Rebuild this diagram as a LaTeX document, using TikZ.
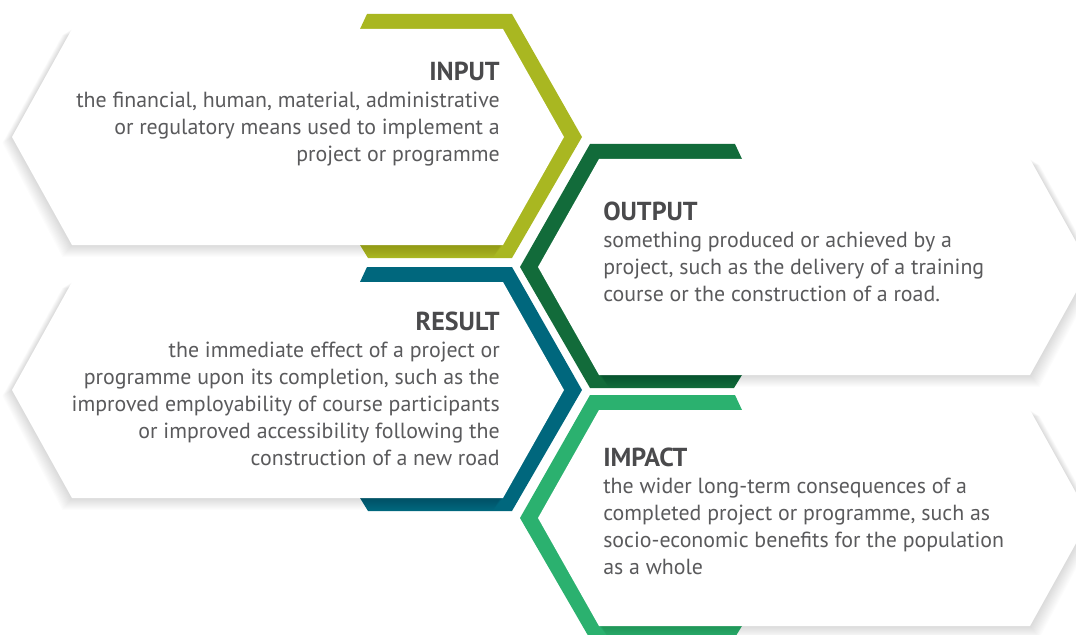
\documentclass[tikz,border=0pt]{standalone}
\usepackage{fontspec}
\setmainfont{PT Sans}
\definecolor{inputgreen}{HTML}{A9B721}
\definecolor{outputgreen}{HTML}{126B3A}
\definecolor{resultblue}{HTML}{00677D}
\definecolor{impactgreen}{HTML}{2BB16F}
\definecolor{textgray}{HTML}{5A5A5C}
\definecolor{titlegray}{HTML}{4A4A4C}
\tikzset{
	boxtext/.style={text=textgray, inner sep=0pt, font=\fontsize{16.4}{20.25}\selectfont}
}
\newcommand{\boxtitle}[1]{{\fontsize{19.5}{20.25}\selectfont\bfseries\color{titlegray}#1}}
\begin{document}
\begin{tikzpicture}[x=0.75pt, y=-0.75pt]
				\useasboundingbox (0,0) rectangle (1076,635);
				\clip (0,0) rectangle (1076,635);
				
				%left boxes
				\foreach \c/\col in {137/inputgreen, 390/resultblue}{
					\fill[\col] (360,\c-108)--(367,\c-123)--(512,\c-123)--(582,\c)--(512,\c+121)--(368,\c+121)--(360,\c+108)--cycle;
					\foreach \s in {1,...,12}{
						\fill[black, opacity=0.012] (12-0.8*\s,\c+0.5*\s)--(72-0.8*\s,\c-108+0.5*\s)--(503-0.8*\s,\c-108+0.5*\s)--(564-0.8*\s,\c+0.5*\s)--(503-0.8*\s,\c+108+\s)--(72-0.8*\s,\c+108+\s)--cycle;
					}
					\fill[white] (12,\c)--(72,\c-108)--(503,\c-108)--(564,\c)--(503,\c+108)--(72,\c+108)--cycle;
				}
				
				%right boxes, mirrored
				\begin{scope}[shift={(1102,0)}, xscale=-1]
				\foreach \c/\col in {267/outputgreen, 518/impactgreen}{
					\fill[\col] (360,\c-108)--(367,\c-123)--(512,\c-123)--(582,\c)--(512,\c+121)--(368,\c+121)--(360,\c+108)--cycle;
					\foreach \s in {1,...,12}{
						\fill[black, opacity=0.012] (12-0.8*\s,\c+0.5*\s)--(72-0.8*\s,\c-108+0.5*\s)--(503-0.8*\s,\c-108+0.5*\s)--(564-0.8*\s,\c+0.5*\s)--(503-0.8*\s,\c+108+\s)--(72-0.8*\s,\c+108+\s)--cycle;
					}
					\fill[white] (12,\c)--(72,\c-108)--(503,\c-108)--(564,\c)--(503,\c+108)--(72,\c+108)--cycle;
				}
				\end{scope}
				
				%texts
				\node[boxtext, align=right, anchor=north east] (input) at (500,62)
					{\boxtitle{INPUT}\\
					the financial, human, material, administrative\\
					or regulatory means used to implement a\\
					project or programme};
				\node[boxtext, align=left, anchor=north west] (output) at (603,202)
					{\boxtitle{OUTPUT}\\
					something produced or achieved by a\\
					project, such as the delivery of a training\\
					course or the construction of a road.};
				\node[boxtext, align=right, anchor=north east] (result) at (500,312)
					{\boxtitle{RESULT}\\
					the immediate effect of a project or\\
					programme upon its completion, such as the\\
					improved employability of course participants\\
					or improved accessibility following the\\
					construction of a new road};
				\node[boxtext, align=left, anchor=north west] (impact) at (603,448)
					{\boxtitle{IMPACT}\\
					the wider long-term consequences of a\\
					completed project or programme, such as\\
					socio-economic benefits for the population\\
					as a whole};
			\end{tikzpicture}
\end{document}
